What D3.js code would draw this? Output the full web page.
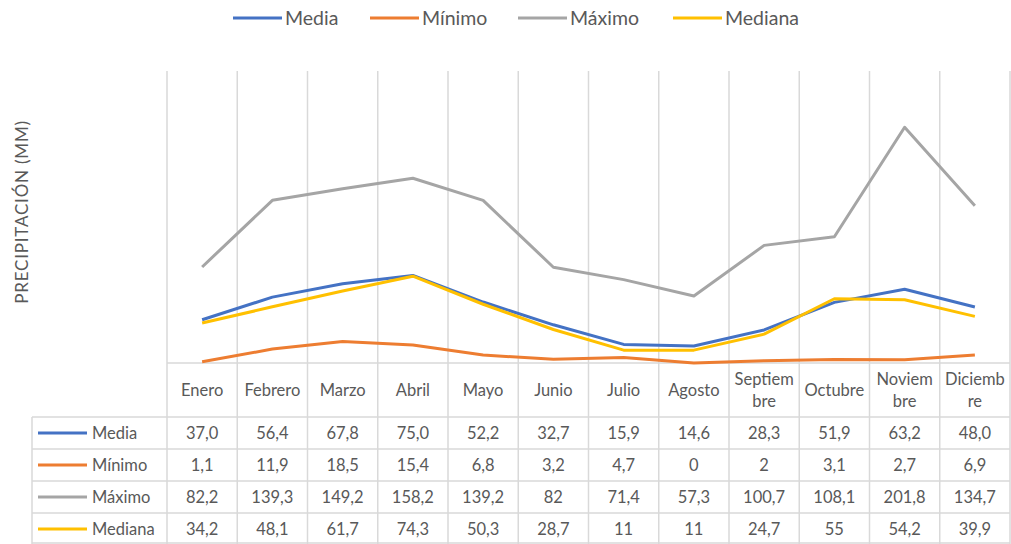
<!DOCTYPE html>
<html>
<head>
<meta charset="utf-8">
<script src="https://cdn.jsdelivr.net/npm/d3@7"></script>
<style>
  body { margin: 0; background: #fff; }
  text { font-family: Lato, "Open Sans", sans-serif; fill: #595959; }
</style>
</head>
<body>
<div id="chart"></div>
<script>
const months = ["Enero", "Febrero", "Marzo", "Abril", "Mayo", "Junio", "Julio", "Agosto", "Septiembre", "Octubre", "Noviembre", "Diciembre"];
// how the month names wrap in the table header
const monthLines = [["Enero"], ["Febrero"], ["Marzo"], ["Abril"], ["Mayo"], ["Junio"], ["Julio"], ["Agosto"], ["Septiem", "bre"], ["Octubre"], ["Noviem", "bre"], ["Diciemb", "re"]];
const seriesNames = ["Media", "Mínimo", "Máximo", "Mediana"];
const media = [37.0, 56.4, 67.8, 75.0, 52.2, 32.7, 15.9, 14.6, 28.3, 51.9, 63.2, 48.0];
const minimo = [1.1, 11.9, 18.5, 15.4, 6.8, 3.2, 4.7, 0, 2, 3.1, 2.7, 6.9];
const maximo = [82.2, 139.3, 149.2, 158.2, 139.2, 82, 71.4, 57.3, 100.7, 108.1, 201.8, 134.7];
const mediana = [34.2, 48.1, 61.7, 74.3, 50.3, 28.7, 11, 11, 24.7, 55, 54.2, 39.9];
// labels exactly as they appear in the data table
const mediaLabels = ["37,0", "56,4", "67,8", "75,0", "52,2", "32,7", "15,9", "14,6", "28,3", "51,9", "63,2", "48,0"];
const minimoLabels = ["1,1", "11,9", "18,5", "15,4", "6,8", "3,2", "4,7", "0", "2", "3,1", "2,7", "6,9"];
const maximoLabels = ["82,2", "139,3", "149,2", "158,2", "139,2", "82", "71,4", "57,3", "100,7", "108,1", "201,8", "134,7"];
const medianaLabels = ["34,2", "48,1", "61,7", "74,3", "50,3", "28,7", "11", "11", "24,7", "55", "54,2", "39,9"];
const colors = ["#4472C4", "#ED7D31", "#A5A5A5", "#FFC000"];

const W = 1011, H = 544;
const plot = { left: 167, right: 1010, top: 71, bottom: 363 };
const tableLeft = 32;
const headerBottom = 417;
const rowH = 32;
const gridColor = "#d9d9d9";
const tableFont = "16.5px";

const series = [
  { name: seriesNames[0], values: media, labels: mediaLabels, color: colors[0] },
  { name: seriesNames[1], values: minimo, labels: minimoLabels, color: colors[1] },
  { name: seriesNames[2], values: maximo, labels: maximoLabels, color: colors[2] },
  { name: seriesNames[3], values: mediana, labels: medianaLabels, color: colors[3] }
];

const svg = d3.select("#chart").append("svg")
  .attr("width", W).attr("height", H);

const x = d3.scaleBand().domain(months).range([plot.left, plot.right]).padding(0);
const y = d3.scaleLinear().domain([0, 250]).range([plot.bottom, plot.top]);

// vertical gridlines (plot + table)
const edges = months.map(m => x(m)).concat([plot.right]);
svg.append("g").selectAll("line").data(edges).enter().append("line")
  .attr("x1", d => d).attr("x2", d => d)
  .attr("y1", plot.top).attr("y2", H)
  .attr("stroke", gridColor).attr("stroke-width", 1.5);

// horizontal axis line and table rows
svg.append("line")
  .attr("x1", plot.left).attr("x2", plot.right)
  .attr("y1", plot.bottom).attr("y2", plot.bottom)
  .attr("stroke", gridColor).attr("stroke-width", 1.5);

const rowTops = series.map((s, i) => headerBottom + i * rowH);
svg.append("g").selectAll("line").data(rowTops.concat([H - 1])).enter().append("line")
  .attr("x1", tableLeft).attr("x2", plot.right)
  .attr("y1", d => d).attr("y2", d => d)
  .attr("stroke", gridColor).attr("stroke-width", 1.5);

svg.append("line")
  .attr("x1", tableLeft).attr("x2", tableLeft)
  .attr("y1", headerBottom).attr("y2", H)
  .attr("stroke", gridColor).attr("stroke-width", 1.5);

// lines
const line = d3.line()
  .x((d, i) => x(months[i]) + x.bandwidth() / 2)
  .y(d => y(d));

svg.append("g").selectAll("path").data(series).enter().append("path")
  .attr("d", d => line(d.values))
  .attr("fill", "none")
  .attr("stroke", d => d.color)
  .attr("stroke-width", 3)
  .attr("stroke-linejoin", "round");

// header of the data table
const head = svg.append("g").selectAll("text").data(months).enter().append("text")
  .attr("text-anchor", "middle")
  .style("font-size", tableFont);
head.each(function(m, i) {
  const lines = monthLines[i];
  const cx = x(m) + x.bandwidth() / 2;
  const cy = (plot.bottom + headerBottom) / 2;
  const start = cy - (lines.length - 1) * 11;
  d3.select(this).selectAll("tspan").data(lines).enter().append("tspan")
    .attr("x", cx)
    .attr("y", (l, k) => start + k * 22)
    .attr("dy", "0.35em")
    .text(l => l);
});

// data rows
series.forEach((s, i) => {
  const cy = rowTops[i] + rowH / 2;
  const g = svg.append("g");
  g.append("line")
    .attr("x1", 38).attr("x2", 87)
    .attr("y1", cy).attr("y2", cy)
    .attr("stroke", s.color).attr("stroke-width", 3);
  g.append("text")
    .attr("x", 92).attr("y", cy).attr("dy", "0.35em")
    .style("font-size", tableFont)
    .text(s.name);
  g.selectAll(".val").data(s.labels).enter().append("text")
    .attr("class", "val")
    .attr("x", (d, k) => x(months[k]) + x.bandwidth() / 2)
    .attr("y", cy).attr("dy", "0.35em")
    .attr("text-anchor", "middle")
    .style("font-size", tableFont)
    .text(d => d);
});

// legend
const legendX = [233, 370, 518, 673];
const legend = svg.append("g").selectAll("g").data(series).enter().append("g")
  .attr("transform", (d, i) => "translate(" + legendX[i] + ",18)");
legend.append("line")
  .attr("x1", 0).attr("x2", 49)
  .attr("stroke", d => d.color).attr("stroke-width", 3);
legend.append("text")
  .attr("x", 52).attr("dy", "0.35em")
  .style("font-size", "19.5px")
  .text(d => d.name);

// y axis title
svg.append("text")
  .attr("transform", "translate(22,212) rotate(-90)")
  .attr("text-anchor", "middle")
  .attr("dy", "0.35em")
  .style("font-size", "17px")
  .style("letter-spacing", "0.8px")
  .text("PRECIPITACIÓN (MM)");
</script>
</body>
</html>
